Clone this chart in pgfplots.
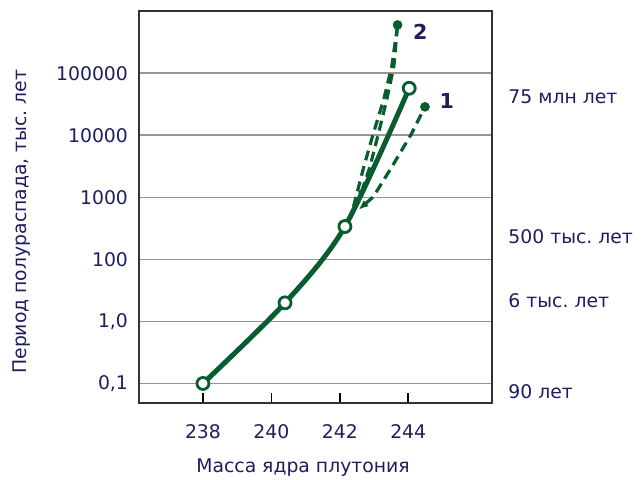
\documentclass[border=0pt]{standalone}
\usepackage{pgfplots}
\pgfplotsset{compat=1.18}
\usepackage{fontspec}
\setmainfont{DejaVu Sans}
\usetikzlibrary{arrows.meta}
\definecolor{pgreen}{RGB}{8,92,46}
\definecolor{navy}{RGB}{30,30,95}
\definecolor{gridgray}{RGB}{150,150,150}
\frenchspacing
\begin{document}
\begin{tikzpicture}
\begin{axis}[
  at={(0,0)}, anchor=south west,
  scale only axis, width=176.5pt, height=196.3pt,
  xmin=236.13, xmax=246.45, ymin=-0.32, ymax=6.01,
  xtick={238,240,242,244}, xticklabels={238,240,242,244},
  ytick={0,1,2,3,4,5}, yticklabels={{0,1},{1,0},100,1000,10000,100000},
  xtick pos=bottom, ytick pos=left,
  tick align=inside, major tick length=5pt,
  ytick style={draw=none},
  xtick style={black, line width=0.8pt},
  ymajorgrids, grid style={gridgray, line width=0.9pt},
  axis line style={line width=1pt, black!80},
  tick label style={font=\fontsize{9.4}{11}\selectfont, text=navy},
  yticklabel style={xshift=-2pt},
  xticklabel style={yshift=-7pt},
  xlabel={Масса ядра плутония},
  ylabel={Период полураспада, тыс. лет},
  label style={font=\fontsize{9.4}{11}\selectfont, text=navy},
  xlabel style={at={(rel axis cs:0.4646,0)}, anchor=center, yshift=-32.35pt},
  ylabel style={at={(rel axis cs:0,0.4626)}, anchor=center, yshift=58.75pt},
  clip=false,
]
% dashed branches
\addplot[pgreen, line width=1.6pt, dash pattern=on 5pt off 3pt, {Latex[length=5pt,width=4pt]}-] coordinates {
  (242.55,2.95) (242.88,3.49) (243.13,4.03) (243.37,4.57) (243.58,5.11) (243.69,5.78)};
\addplot[pgreen, line width=1.6pt, dash pattern=on 5pt off 3pt] coordinates {
  (242.40,2.85) (242.70,3.49) (242.98,4.03) (243.28,4.57) (243.52,5.11) (243.69,5.78)};
\addplot[pgreen, line width=1.6pt, dash pattern=on 5pt off 3pt, {Latex[length=5pt,width=4pt]}-] coordinates {
  (242.55,2.80) (242.98,3.01) (243.52,3.49) (244.10,4.03) (244.49,4.46)};
% filled end points
\addplot[only marks, mark=*, mark size=2.2pt, pgreen] coordinates {(243.69,5.78) (244.49,4.46)};
% main curve
\addplot[pgreen, line width=2.5pt, smooth] coordinates {
  (238,0) (240.40,1.30) (242.15,2.53) (244.03,4.76)};
\addplot[only marks, mark=*, mark size=3pt, mark options={draw=pgreen, fill=white, line width=1.4pt}] coordinates {
  (238,0) (240.40,1.30) (242.15,2.53) (244.03,4.76)};
% labels
\node[font=\bfseries\fontsize{10.3}{12}\selectfont, text=navy] at (axis cs:244.35,5.67) {2};
\node[font=\bfseries\fontsize{10.3}{12}\selectfont, text=navy] at (axis cs:245.13,4.56) {1};
\node[anchor=west, font=\fontsize{9.4}{11}\selectfont, text=navy, inner sep=0pt] at (axis cs:246.92,4.63) {75 млн лет};
\node[anchor=west, font=\fontsize{9.4}{11}\selectfont, text=navy, inner sep=0pt] at (axis cs:246.92,2.36) {500 тыс. лет};
\node[anchor=west, font=\fontsize{9.4}{11}\selectfont, text=navy, inner sep=0pt] at (axis cs:246.92,1.34) {6 тыс. лет};
\node[anchor=west, font=\fontsize{9.4}{11}\selectfont, text=navy, inner sep=0pt] at (axis cs:246.92,-0.135) {90 лет};
\end{axis}
\pgfresetboundingbox
\path[use as bounding box] (-69.5pt,-37.85pt) rectangle (251pt,201.65pt);
\end{tikzpicture}
\end{document}
